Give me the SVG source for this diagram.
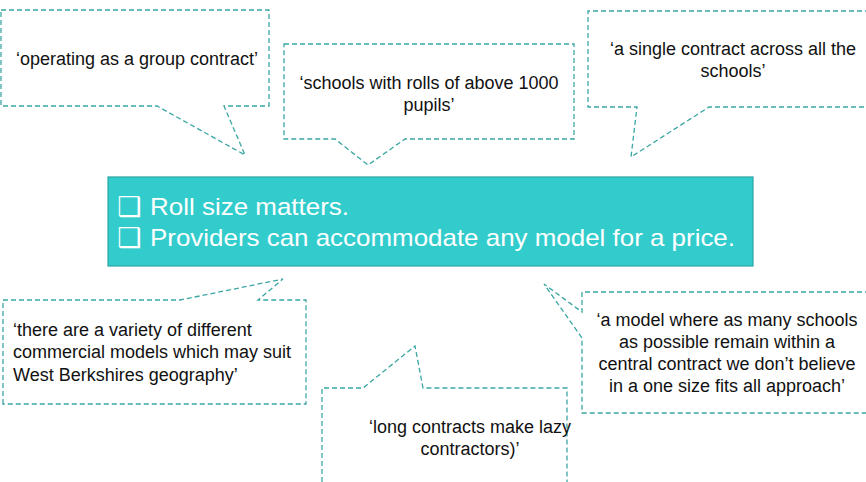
<svg xmlns="http://www.w3.org/2000/svg" width="866" height="482" viewBox="0 0 866 482">
<style>
.callout{fill:#ffffff;stroke:#3aa6a3;stroke-width:1.3;stroke-dasharray:5 3;}
.q{font-family:"Liberation Sans",Arial,sans-serif;font-size:18px;fill:#111111;}
.mid{text-anchor:middle;}
.main{font-family:"Liberation Sans",Arial,sans-serif;font-size:24px;fill:#ffffff;}
.box{font-family:"DejaVu Sans",sans-serif;font-size:27px;fill:#ffffff;}
</style>
<rect width="866" height="482" fill="#ffffff"/>
<g id="connectors"></g>
<g id="q1">
<path class="callout" d="M1,10 H269 V106 H224 L245,155 L157,106 H1 Z"/>
<text class="q mid" x="137" y="65">‘operating as a group contract’</text>
</g>
<g id="q2">
<path class="callout" d="M284,44 H574 V139 H405 L368,165 L335,139 H284 Z"/>
<text class="q mid" x="429" y="89">‘schools with rolls of above 1000</text>
<text class="q mid" x="429" y="111">pupils’</text>
</g>
<g id="q3">
<path class="callout" d="M870,11 H588 V107 H637 L631,157 L709,107 H870"/>
<text class="q mid" x="733" y="55">‘a single contract across all the</text>
<text class="q mid" x="733" y="77">schools’</text>
</g>
<g id="main">
<rect x="108" y="177" width="645" height="89" fill="#33cccc" stroke="#2aa5a3" stroke-width="1.2"/>
<text class="box" x="117" y="216">❑</text>
<text class="main" x="150" y="215" textLength="199" lengthAdjust="spacingAndGlyphs">Roll size matters.</text>
<text class="box" x="117" y="247">❑</text>
<text class="main" x="150" y="246" textLength="585" lengthAdjust="spacingAndGlyphs">Providers can accommodate any model for a price.</text>
</g>
<g id="q4">
<path class="callout" d="M3,404 V300 H180 L283,279 L258,300 H306 V404 Z"/>
<text class="q" x="13" y="336">‘there are a variety of different</text>
<text class="q" x="13" y="358">commercial models which may suit</text>
<text class="q" x="13" y="381">West Berkshires geography’</text>
</g>
<g id="q5">
<path class="callout" d="M322,490 V388 H363 L415,346 L423,388 H567 V490"/>
<text class="q mid" x="470" y="433">‘long contracts make lazy</text>
<text class="q mid" x="470" y="455">contractors)’</text>
</g>
<g id="q6">
<path class="callout" d="M870,292 H582 V312 L544,284 L582,338 V413 H870"/>
<text class="q mid" x="727" y="326">‘a model where as many schools</text>
<text class="q mid" x="727" y="348">as possible remain within a</text>
<text class="q mid" x="727" y="370">central contract we don’t believe</text>
<text class="q mid" x="727" y="392">in a one size fits all approach’</text>
</g>
</svg>
